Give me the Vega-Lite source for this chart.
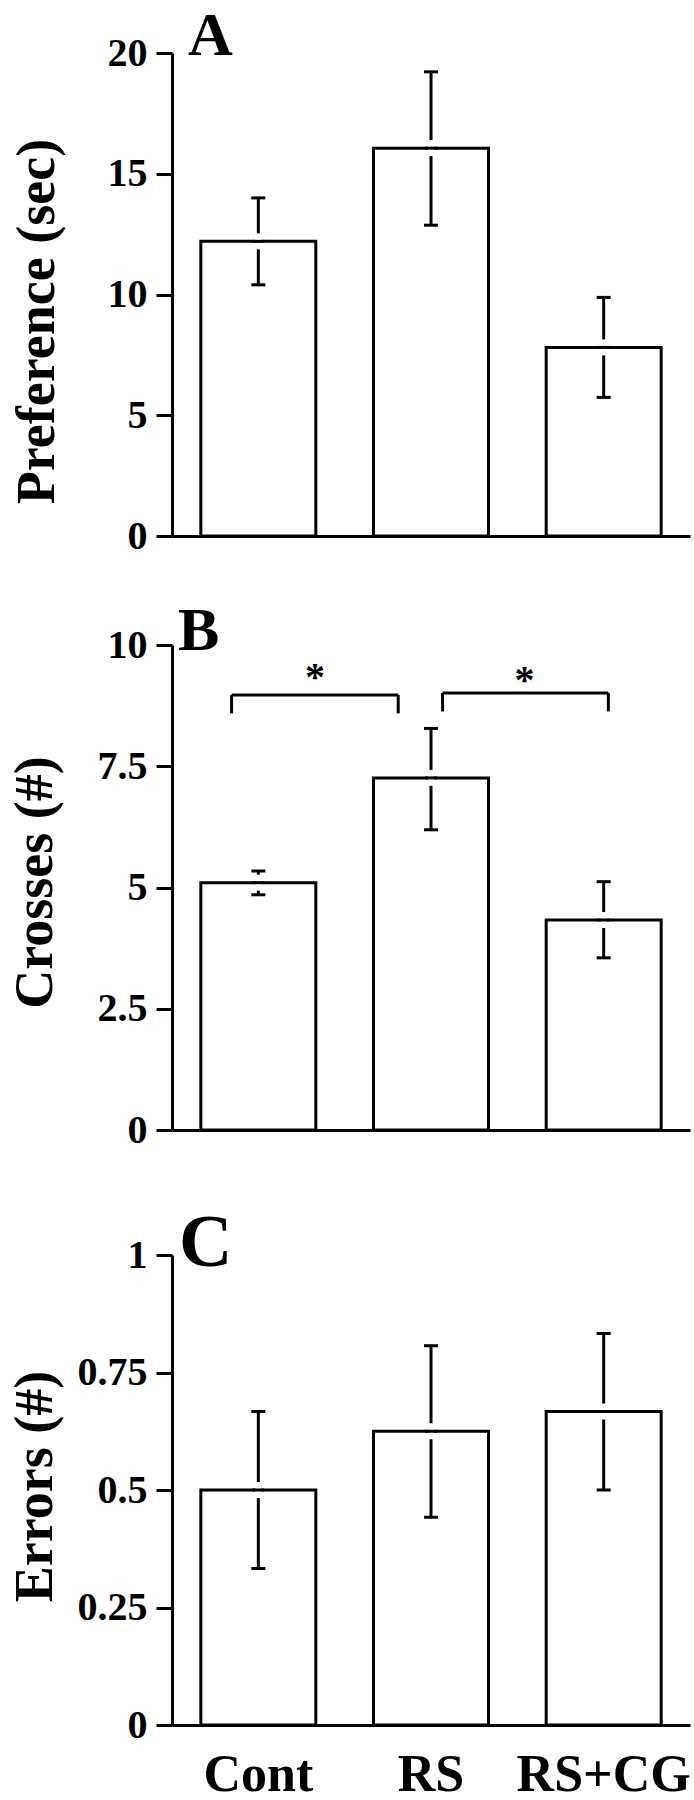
{
  "$schema": "https://vega.github.io/schema/vega-lite/v6.json",
  "padding": {"left": 7, "top": 5, "right": 0, "bottom": 0},
  "background": "white",
  "config": {
    "view": {"stroke": null},
    "font": "Liberation Serif",
    "axis": {"grid": false, "domainColor": "black", "domainWidth": 3, "tickColor": "black", "tickWidth": 3, "labelColor": "black", "titleColor": "black", "labelFont": "Liberation Serif", "labelFontWeight": "bold", "titleFont": "Liberation Serif", "titleFontWeight": "bold"},
    "title": {"font": "Liberation Serif", "fontWeight": "bold", "color": "black", "anchor": "start", "frame": "group", "baseline": "alphabetic"}
  },
  "spacing": 57,
  "vconcat": [
    {
      "spacing": 44,
      "vconcat": [
        {
          "width": 518, "height": 483,
          "title": {"text": "A", "fontSize": 62, "dx": 16, "offset": -35},
          "data": {"values": [
            {"group": "Cont", "mean": 12.2, "lo": 10.4, "hi": 14.0},
            {"group": "RS", "mean": 16.06, "lo": 12.87, "hi": 19.22},
            {"group": "RS+CG", "mean": 7.81, "lo": 5.74, "hi": 9.88}
          ]},
          "encoding": {
            "x": {"field": "group", "type": "nominal", "sort": ["Cont", "RS", "RS+CG"], "scale": {"paddingInner": 0.334, "paddingOuter": 0.167}, "axis": {"labels": false, "ticks": false, "tickSize": 0, "title": null}}
          },
          "layer": [
            {"mark": {"type": "bar", "fill": "white", "stroke": "black", "strokeWidth": 3, "opacity": 1},
             "encoding": {"y": {"field": "mean", "type": "quantitative", "scale": {"domain": [0, 20], "nice": false}, "axis": {"values": [0, 5, 10, 15, 20], "format": ".3~g", "tickSize": 16, "labelFontSize": 40, "labelPadding": 9, "title": "Preference (sec)", "titleFontSize": 54, "titleX": -119, "titleY": 268, "titleAlign": "center", "titleBaseline": "alphabetic", "titleAngle": -90}}}},
            {"mark": {"type": "rule", "color": "black", "strokeWidth": 3},
             "encoding": {"y": {"field": "lo", "type": "quantitative", "scale": {"domain": [0, 20], "nice": false}}, "y2": {"field": "hi"}}},
            {"mark": {"type": "tick", "orient": "vertical", "color": "white", "size": 16, "thickness": 6, "opacity": 1},
             "encoding": {"y": {"field": "mean", "type": "quantitative", "scale": {"domain": [0, 20], "nice": false}}}},
            {"mark": {"type": "tick", "color": "black", "size": 12, "thickness": 3, "opacity": 1},
             "encoding": {"y": {"field": "mean", "type": "quantitative", "scale": {"domain": [0, 20], "nice": false}}}},
            {"mark": {"type": "tick", "color": "black", "size": 14, "thickness": 3, "opacity": 1},
             "encoding": {"y": {"field": "hi", "type": "quantitative", "scale": {"domain": [0, 20], "nice": false}}}},
            {"mark": {"type": "tick", "color": "black", "size": 14, "thickness": 3, "opacity": 1},
             "encoding": {"y": {"field": "lo", "type": "quantitative", "scale": {"domain": [0, 20], "nice": false}}}}
          ]
        },
        {
          "width": 518, "height": 485,
          "title": {"text": "B", "fontSize": 62, "dx": 6, "offset": -38},
          "resolve": {"scale": {"x": "independent"}},
          "layer": [
            {
              "data": {"values": [
                {"group": "Cont", "mean": 5.10, "lo": 4.85, "hi": 5.34},
                {"group": "RS", "mean": 7.26, "lo": 6.19, "hi": 8.28},
                {"group": "RS+CG", "mean": 4.33, "lo": 3.55, "hi": 5.12}
              ]},
              "encoding": {
                "x": {"field": "group", "type": "nominal", "sort": ["Cont", "RS", "RS+CG"], "scale": {"paddingInner": 0.334, "paddingOuter": 0.167}, "axis": {"labels": false, "ticks": false, "tickSize": 0, "title": null}}
              },
              "layer": [
                {"mark": {"type": "bar", "fill": "white", "stroke": "black", "strokeWidth": 3, "opacity": 1},
                 "encoding": {"y": {"field": "mean", "type": "quantitative", "scale": {"domain": [0, 10], "nice": false}, "axis": {"values": [0, 2.5, 5, 7.5, 10], "format": ".3~g", "tickSize": 16, "labelFontSize": 40, "labelPadding": 9, "title": "Crosses (#)", "titleFontSize": 54, "titleX": -121, "titleY": 237, "titleAlign": "center", "titleBaseline": "alphabetic", "titleAngle": -90}}}},
                {"mark": {"type": "rule", "color": "black", "strokeWidth": 3},
                 "encoding": {"y": {"field": "lo", "type": "quantitative", "scale": {"domain": [0, 10], "nice": false}}, "y2": {"field": "hi"}}},
                {"mark": {"type": "tick", "orient": "vertical", "color": "white", "size": 16, "thickness": 6, "opacity": 1},
                 "encoding": {"y": {"field": "mean", "type": "quantitative", "scale": {"domain": [0, 10], "nice": false}}}},
                {"mark": {"type": "tick", "color": "black", "size": 12, "thickness": 3, "opacity": 1},
                 "encoding": {"y": {"field": "mean", "type": "quantitative", "scale": {"domain": [0, 10], "nice": false}}}},
                {"mark": {"type": "tick", "color": "black", "size": 14, "thickness": 3, "opacity": 1},
                 "encoding": {"y": {"field": "hi", "type": "quantitative", "scale": {"domain": [0, 10], "nice": false}}}},
                {"mark": {"type": "tick", "color": "black", "size": 14, "thickness": 3, "opacity": 1},
                 "encoding": {"y": {"field": "lo", "type": "quantitative", "scale": {"domain": [0, 10], "nice": false}}}}
              ]
            },
            {
              "layer": [
                {"data": {"values": [
                  {"x": 0.345, "x2": 1.31, "y": 8.97},
                  {"x": 1.567, "x2": 2.527, "y": 9.01}
                 ]},
                 "mark": {"type": "rule", "color": "black", "strokeWidth": 3},
                 "encoding": {
                   "x": {"field": "x", "type": "quantitative", "scale": {"domain": [0, 3], "nice": false, "zero": false}, "axis": null},
                   "x2": {"field": "x2"},
                   "y": {"field": "y", "type": "quantitative", "scale": {"domain": [0, 10], "nice": false}}
                 }},
                {"data": {"values": [
                  {"x": 0.345, "y": 8.59, "y2": 8.97},
                  {"x": 1.31, "y": 8.59, "y2": 8.97},
                  {"x": 1.567, "y": 8.63, "y2": 9.01},
                  {"x": 2.527, "y": 8.63, "y2": 9.01}
                 ]},
                 "mark": {"type": "rule", "color": "black", "strokeWidth": 3},
                 "encoding": {
                   "x": {"field": "x", "type": "quantitative", "scale": {"domain": [0, 3], "nice": false, "zero": false}, "axis": null},
                   "y": {"field": "y", "type": "quantitative", "scale": {"domain": [0, 10], "nice": false}},
                   "y2": {"field": "y2"}
                 }},
                {"data": {"values": [
                  {"x": 0.828, "y": 9.07, "label": "*"},
                  {"x": 2.042, "y": 9.02, "label": "*"}
                 ]},
                 "mark": {"type": "text", "font": "Liberation Serif", "fontWeight": "bold", "fontSize": 40, "align": "center", "baseline": "alphabetic", "color": "black"},
                 "encoding": {
                   "x": {"field": "x", "type": "quantitative", "scale": {"domain": [0, 3], "nice": false, "zero": false}, "axis": null},
                   "y": {"field": "y", "type": "quantitative", "scale": {"domain": [0, 10], "nice": false}},
                   "text": {"field": "label"}
                 }}
              ]
            }
          ]
        }
      ]
    },
    {
      "width": 518, "height": 470,
      "title": {"text": "C", "fontSize": 74, "dx": 7, "offset": -47},
      "data": {"values": [
        {"group": "Cont", "mean": 0.5, "lo": 0.333, "hi": 0.667},
        {"group": "RS", "mean": 0.625, "lo": 0.442, "hi": 0.807},
        {"group": "RS+CG", "mean": 0.667, "lo": 0.5, "hi": 0.833}
      ]},
      "encoding": {
        "x": {"field": "group", "type": "nominal", "sort": ["Cont", "RS", "RS+CG"], "scale": {"paddingInner": 0.334, "paddingOuter": 0.167}, "axis": {"labels": true, "ticks": false, "tickSize": 0, "title": null, "labelAngle": 0, "labelFontSize": 52, "labelPadding": 65, "labelBaseline": "alphabetic"}}
      },
      "layer": [
        {"mark": {"type": "bar", "fill": "white", "stroke": "black", "strokeWidth": 3, "opacity": 1},
         "encoding": {"y": {"field": "mean", "type": "quantitative", "scale": {"domain": [0, 1], "nice": false}, "axis": {"values": [0, 0.25, 0.5, 0.75, 1], "format": ".3~g", "tickSize": 16, "labelFontSize": 40, "labelPadding": 9, "title": "Errors (#)", "titleFontSize": 54, "titleX": -121, "titleY": 231, "titleAlign": "center", "titleBaseline": "alphabetic", "titleAngle": -90}}}},
        {"mark": {"type": "rule", "color": "black", "strokeWidth": 3},
         "encoding": {"y": {"field": "lo", "type": "quantitative", "scale": {"domain": [0, 1], "nice": false}}, "y2": {"field": "hi"}}},
        {"mark": {"type": "tick", "orient": "vertical", "color": "white", "size": 16, "thickness": 6, "opacity": 1},
         "encoding": {"y": {"field": "mean", "type": "quantitative", "scale": {"domain": [0, 1], "nice": false}}}},
        {"mark": {"type": "tick", "color": "black", "size": 12, "thickness": 3, "opacity": 1},
         "encoding": {"y": {"field": "mean", "type": "quantitative", "scale": {"domain": [0, 1], "nice": false}}}},
        {"mark": {"type": "tick", "color": "black", "size": 14, "thickness": 3, "opacity": 1},
         "encoding": {"y": {"field": "hi", "type": "quantitative", "scale": {"domain": [0, 1], "nice": false}}}},
        {"mark": {"type": "tick", "color": "black", "size": 14, "thickness": 3, "opacity": 1},
         "encoding": {"y": {"field": "lo", "type": "quantitative", "scale": {"domain": [0, 1], "nice": false}}}}
      ]
    }
  ]
}
